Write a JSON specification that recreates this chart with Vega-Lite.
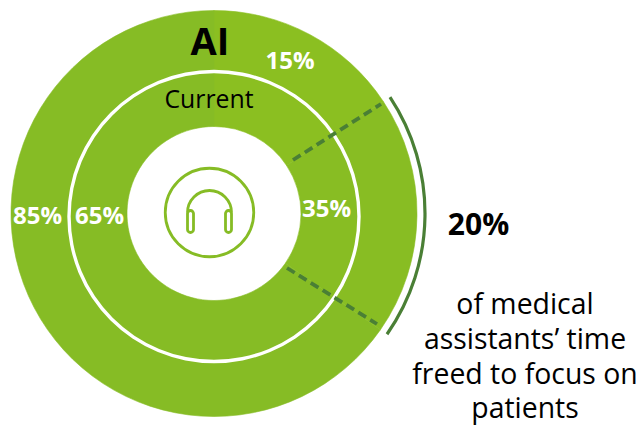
{
"$schema":"https://vega.github.io/schema/vega-lite/v6.json",
"width":643,"height":426,"padding":0,
"autosize":{"type":"fit","contains":"padding"},
"background":"white",
"config":{"view":{"stroke":null},"text":{"font":"Open Sans"}},
"datasets":{
"segments":[
{"segment":"released by AI (15%)","start":0,"end":15.7},
{"segment":"freed for patients (20%)","start":15.7,"end":34.7},
{"segment":"remaining (65%)","start":34.7,"end":100}],
"freed":[{"segment":"freed for patients (20%)","start":15.7,"end":34.7}],
"full":[{"segment":"circle","start":0,"end":100}],
"dashes":[
{"edge":"upper","x":79,"y":53.5,"x2":167,"y2":109.5},
{"edge":"lower","x":73,"y":-54.5,"x2":163,"y2":-110.5}],
"white":[
{"t":"15%","x":76,"y":144.5},
{"t":"35%","x":112.5,"y":-3.5},
{"t":"85%","x":-176.5,"y":-10.5},
{"t":"65%","x":-114.5,"y":-10.5}],
"desc":[
{"t":"of medical","x":311,"y":-100.5},
{"t":"assistants’ time","x":311,"y":-135.5},
{"t":"freed to focus on","x":311,"y":-170.5},
{"t":"patients","x":311,"y":-204.5}]
},
"layer":[
{"data":{"name":"segments"},"mark":{"type":"arc","outerRadius":203,"innerRadius":87,"strokeWidth":0.6},
"encoding":{
"x":{"datum":0,"type":"quantitative","scale":{"domain":[-214,429],"nice":false,"zero":false},"axis":null},
"y":{"datum":0,"type":"quantitative","scale":{"domain":[-212.5,213.5],"nice":false,"zero":false},"axis":null},
"theta":{"field":"start","type":"quantitative","scale":{"domain":[0,100],"range":[0,6.28319]}},
"theta2":{"field":"end"},
"color":{"field":"segment","type":"nominal","legend":null,"scale":{"domain":["released by AI (15%)","freed for patients (20%)","remaining (65%)"],"range":["#8bbf21","#88bd23","#86bc25"]}},
"stroke":{"field":"segment","type":"nominal","legend":null,"scale":{"domain":["released by AI (15%)","freed for patients (20%)","remaining (65%)"],"range":["#8bbf21","#88bd23","#86bc25"]}}}},
{"data":{"name":"full"},"mark":{"type":"arc","outerRadius":146.7,"innerRadius":143.3,"color":"#ffffff"},
"encoding":{
"x":{"datum":0,"type":"quantitative","scale":{"domain":[-214,429],"nice":false,"zero":false},"axis":null},
"y":{"datum":-3,"type":"quantitative","scale":{"domain":[-212.5,213.5],"nice":false,"zero":false},"axis":null},
"theta":{"field":"start","type":"quantitative","scale":{"domain":[0,100],"range":[0,6.28319]}},"theta2":{"field":"end"}}},
{"data":{"name":"freed"},"mark":{"type":"arc","outerRadius":212.6,"innerRadius":209.4,"color":"#4a7f35"},
"encoding":{
"x":{"datum":0,"type":"quantitative","scale":{"domain":[-214,429],"nice":false,"zero":false},"axis":null},
"y":{"datum":0,"type":"quantitative","scale":{"domain":[-212.5,213.5],"nice":false,"zero":false},"axis":null},
"theta":{"field":"start","type":"quantitative","scale":{"domain":[0,100],"range":[0,6.28319]}},"theta2":{"field":"end"}}},
{"data":{"name":"dashes"},"mark":{"type":"rule","color":"#4a7f35","strokeWidth":3.8,"strokeDash":[9,5]},
"encoding":{
"x":{"field":"x","type":"quantitative","scale":{"domain":[-214,429],"nice":false,"zero":false},"axis":null},"y":{"field":"y","type":"quantitative","scale":{"domain":[-212.5,213.5],"nice":false,"zero":false},"axis":null},
"x2":{"field":"x2"},"y2":{"field":"y2"}}},
{"data":{"values":[{"icon":"ring"}]},"mark":{"type":"point","shape":"circle","filled":false,"size":7832,"stroke":"#86bc25","strokeWidth":2.8,"opacity":1},
"encoding":{"x":{"datum":-4.5,"type":"quantitative","scale":{"domain":[-214,429],"nice":false,"zero":false},"axis":null},"y":{"datum":1,"type":"quantitative","scale":{"domain":[-212.5,213.5],"nice":false,"zero":false},"axis":null}}},
{"data":{"values":[{"icon":"headphones"}]},"mark":{"type":"point","shape":"M-0.88,0 A0.88,0.88 0 0 1 0.88,0 M-0.88,0.04 A0.12,0.12 0 0 1 -0.64,0.04 L-0.64,0.68 A0.12,0.12 0 0 1 -0.88,0.68 Z M0.64,0.04 A0.12,0.12 0 0 1 0.88,0.04 L0.88,0.68 A0.12,0.12 0 0 1 0.64,0.68 Z","filled":false,"size":2500,"stroke":"#86bc25","strokeWidth":2.8,"opacity":1},
"encoding":{"x":{"datum":-4.5,"type":"quantitative","scale":{"domain":[-214,429],"nice":false,"zero":false},"axis":null},"y":{"datum":1,"type":"quantitative","scale":{"domain":[-212.5,213.5],"nice":false,"zero":false},"axis":null}}},
{"data":{"values":[{"t":"AI","x":-4,"y":158.5}]},"mark":{"type":"text","font":"Open Sans","fontWeight":700,"fontSize":38,"color":"#000000","align":"center","baseline":"alphabetic"},
"encoding":{"x":{"field":"x","type":"quantitative","scale":{"domain":[-214,429],"nice":false,"zero":false},"axis":null},"y":{"field":"y","type":"quantitative","scale":{"domain":[-212.5,213.5],"nice":false,"zero":false},"axis":null},"text":{"field":"t"}}},
{"data":{"values":[{"t":"Current","x":-5,"y":105.5}]},"mark":{"type":"text","font":"Open Sans","fontSize":24.8,"color":"#000000","align":"center","baseline":"alphabetic"},
"encoding":{"x":{"field":"x","type":"quantitative","scale":{"domain":[-214,429],"nice":false,"zero":false},"axis":null},"y":{"field":"y","type":"quantitative","scale":{"domain":[-212.5,213.5],"nice":false,"zero":false},"axis":null},"text":{"field":"t"}}},
{"data":{"name":"white"},"mark":{"type":"text","font":"Open Sans","fontWeight":700,"fontSize":24,"color":"#ffffff","align":"center","baseline":"alphabetic"},
"encoding":{"x":{"field":"x","type":"quantitative","scale":{"domain":[-214,429],"nice":false,"zero":false},"axis":null},"y":{"field":"y","type":"quantitative","scale":{"domain":[-212.5,213.5],"nice":false,"zero":false},"axis":null},"text":{"field":"t"}}},
{"data":{"values":[{"t":"20%","x":264.5,"y":-21.5}]},"mark":{"type":"text","font":"Open Sans","fontWeight":700,"fontSize":30,"color":"#000000","align":"center","baseline":"alphabetic"},
"encoding":{"x":{"field":"x","type":"quantitative","scale":{"domain":[-214,429],"nice":false,"zero":false},"axis":null},"y":{"field":"y","type":"quantitative","scale":{"domain":[-212.5,213.5],"nice":false,"zero":false},"axis":null},"text":{"field":"t"}}},
{"data":{"name":"desc"},"mark":{"type":"text","font":"Open Sans","fontSize":28.4,"color":"#000000","align":"center","baseline":"alphabetic"},
"encoding":{"x":{"field":"x","type":"quantitative","scale":{"domain":[-214,429],"nice":false,"zero":false},"axis":null},"y":{"field":"y","type":"quantitative","scale":{"domain":[-212.5,213.5],"nice":false,"zero":false},"axis":null},"text":{"field":"t"}}}
]
}
